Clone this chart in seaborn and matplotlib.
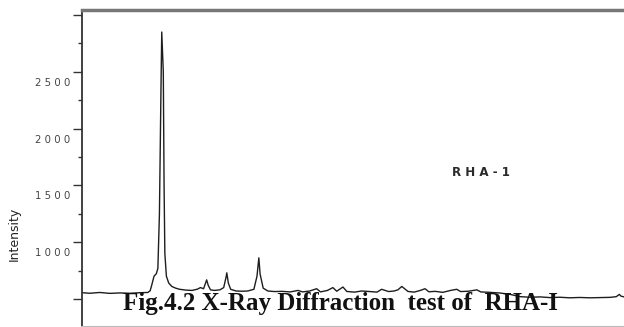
import numpy as np
import pandas as pd
import matplotlib
matplotlib.use("Agg")
import matplotlib.pyplot as plt
import seaborn as sns
from matplotlib.transforms import ScaledTranslation

# 2-theta positions (deg) and intensity (counts)
two_theta = [10.0, 11.0, 12.3, 13.6, 14.9, 16.2, 17.5, 18.5, 18.8, 19.0, 19.3, 19.6,
             19.8, 20.0, 20.2, 20.3, 20.5, 20.6, 20.7, 20.9, 21.2, 21.6, 22.1, 22.6,
             23.4, 24.2, 24.9, 25.3, 25.7, 25.96, 26.1, 26.3, 26.6, 27.1, 27.8, 28.3,
             28.6, 28.7, 28.9, 29.2, 29.9, 30.7, 31.4, 32.2, 32.6, 32.84, 33.0, 33.4,
             34.0, 34.9, 35.8, 36.9, 37.9, 38.5, 39.4, 40.3, 40.8, 41.7, 42.4, 42.9,
             43.7, 44.2, 45.2, 46.1, 47.2, 48.1, 48.7, 49.6, 50.3, 50.8, 51.3, 52.1,
             52.9, 53.7, 54.3, 54.8, 55.6, 56.6, 57.6, 58.4, 58.9, 59.9, 61.0, 61.5,
             62.7, 64.0, 65.3, 66.6, 67.9, 69.2, 70.4, 71.7, 73.0, 74.3, 75.6, 76.9,
             78.2, 79.0, 79.4, 79.6, 80.0]
intensity = [555, 550, 557, 549, 553, 550, 555, 557, 572, 620, 700, 722,
             770, 1250, 2350, 2850, 2500, 1500, 900, 700, 640, 610, 595, 585,
             578, 575, 586, 600, 590, 640, 668, 620, 580, 575, 580, 600,
             690, 730, 640, 585, 570, 568, 570, 585, 700, 862, 720, 595,
             570, 565, 567, 562, 575, 562, 570, 590, 562, 575, 600, 568,
             605, 566, 560, 570, 565, 560, 585, 565, 570, 580, 610, 566,
             560, 575, 590, 563, 567, 558, 575, 585, 565, 568, 580, 562,
             558, 552, 540, 520, 515, 518, 512, 515, 510, 513, 510, 512,
             514, 520, 540, 525, 518]

ytick_vals = [500, 1000, 1500, 2000, 2500, 3000]
ytick_labels = ["", "1 0 0 0", "1 5 0 0", "2 0 0 0", "2 5 0 0", ""]
ytick_minor = [750, 1250, 1750, 2250, 2750]

df = pd.DataFrame({"two_theta": two_theta, "intensity": intensity})

sns.set_theme(style="white")
plt.rcParams["font.family"] = ["DejaVu Sans"]

fig = plt.figure(figsize=(6.24, 3.27), dpi=100)
ax = fig.add_axes([82 / 624, 0.0 / 327, 542 / 624, 317 / 327])

sns.lineplot(data=df, x="two_theta", y="intensity", ax=ax, color="#1e1e1e",
             linewidth=1.0, estimator=None, sort=False)

ax.set_xlim(10, 80)
ax.set_ylim(253, 3044)
ax.set_xticks([])
ax.set_xlabel("")
ax.set_ylabel("")

ax.set_yticks(ytick_vals)
ax.set_yticklabels(ytick_labels, fontsize=7.3, color="#444444")
ax.set_yticks(ytick_minor, minor=True)
ax.tick_params(axis="y", which="major", direction="out", length=6.5, width=1.0,
               color="#333333", left=True, pad=2)
ax.tick_params(axis="y", which="minor", direction="out", length=3, width=1.0,
               color="#333333", left=True)
offset = ScaledTranslation(0, -10 / 100, fig.dpi_scale_trans)
for lab in ax.get_yticklabels():
    lab.set_transform(lab.get_transform() + offset)

ax.spines["right"].set_visible(False)
ax.spines["left"].set_color("#333333")
ax.spines["left"].set_linewidth(1.3)
ax.spines["top"].set_color("#777777")
ax.spines["top"].set_linewidth(2.5)
ax.spines["bottom"].set_color("#bbbbbb")
ax.spines["bottom"].set_linewidth(1.5)

fig.text(14 / 624, 1 - 234 / 327, "Intensity", fontsize=9, color="#222222",
         rotation=90, ha="center", va="center")
fig.text(452 / 624, 1 - 172 / 327, "R H A - 1", fontsize=8.6, fontweight="bold",
         color="#2a2a2a", ha="left", va="center")
fig.text(123 / 624, 1 - 310 / 327, "Fig.4.2 X-Ray Diffraction  test of  RHA-I",
         fontsize=18, fontweight="bold", family=["Liberation Serif"],
         color="#111111", ha="left", va="baseline")

fig.savefig("out.png", dpi=100)
